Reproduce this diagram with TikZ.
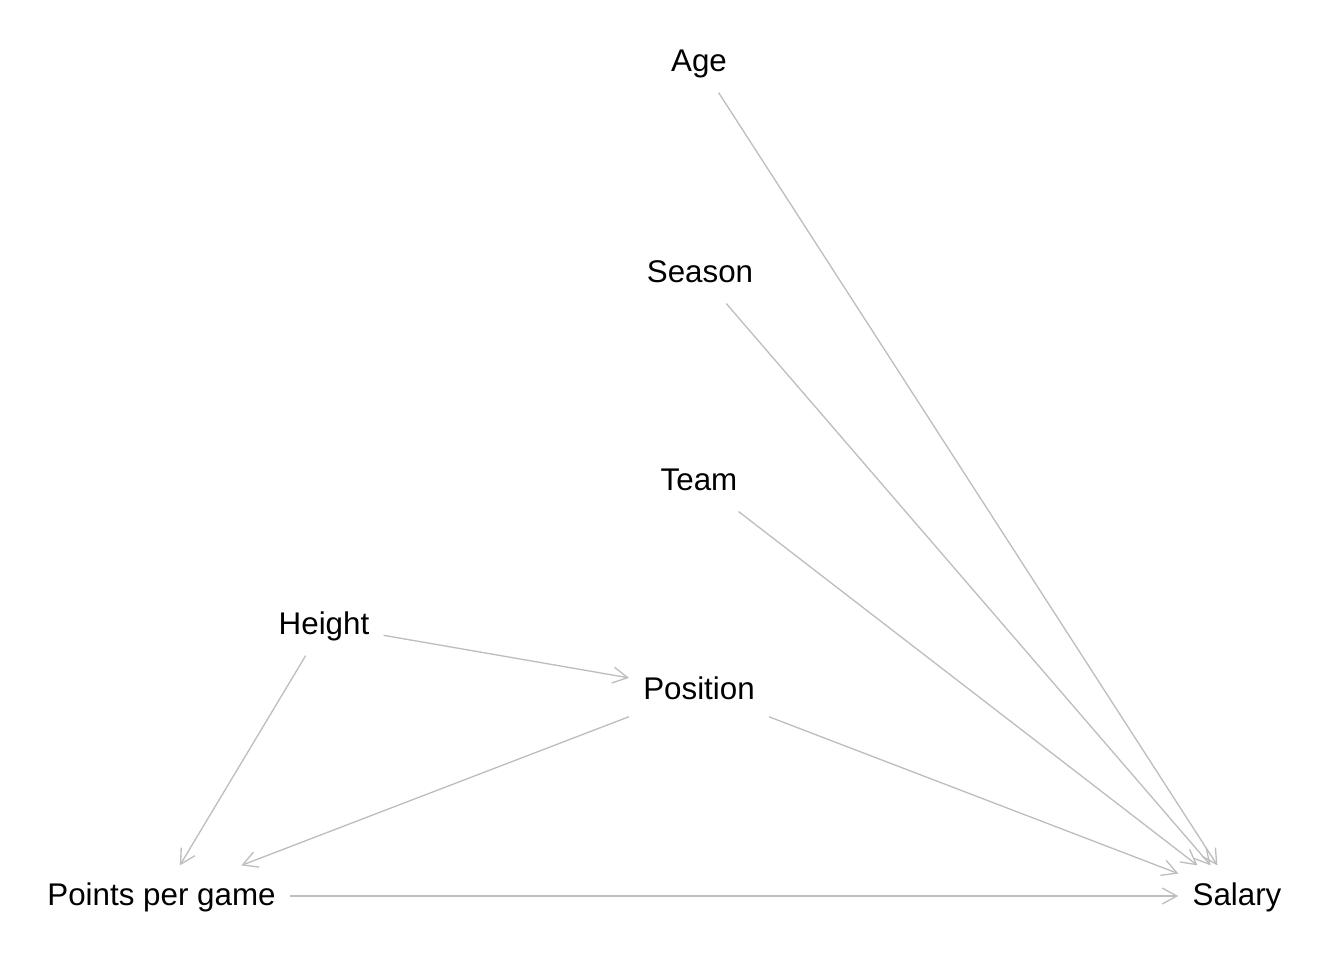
\documentclass[tikz,border=0pt]{standalone}
\usepackage{fontspec}
\setmainfont{Liberation Sans}
\usetikzlibrary{arrows.meta}
\definecolor{edgegray}{HTML}{BEBEBE}
\begin{document}
\begin{tikzpicture}[x=0.75pt,y=-0.75pt,
  var/.style={font=\fontsize{23.5}{28}\selectfont, text height=18.6pt, text depth=4.9pt, inner xsep=10.5pt, inner ysep=11pt},
  edge/.style={draw=edgegray, line width=1pt, -{Straight Barb[length=11pt,width=12pt]}}]
\useasboundingbox (0,0) rectangle (1344,960);
\node[var] (age) at (699,62) {Age};
\node[var] (season) at (700,273) {Season};
\node[var] (team) at (699,481) {Team};
\node[var] (height) at (324,625) {Height};
\node[var] (position) at (699,690) {Position};
\node[var] (ppg) at (161.5,896) {Points per game};
\node[var] (salary) at (1237,896) {Salary};
\draw[edge] (age) -- (salary);
\draw[edge] (season) -- (salary);
\draw[edge] (team) -- (salary);
\draw[edge] (position) -- (salary);
\draw[edge] (ppg) -- (salary);
\draw[edge] (height) -- (position);
\draw[edge] (height) -- (ppg);
\draw[edge] (position) -- (ppg);
\end{tikzpicture}
\end{document}
